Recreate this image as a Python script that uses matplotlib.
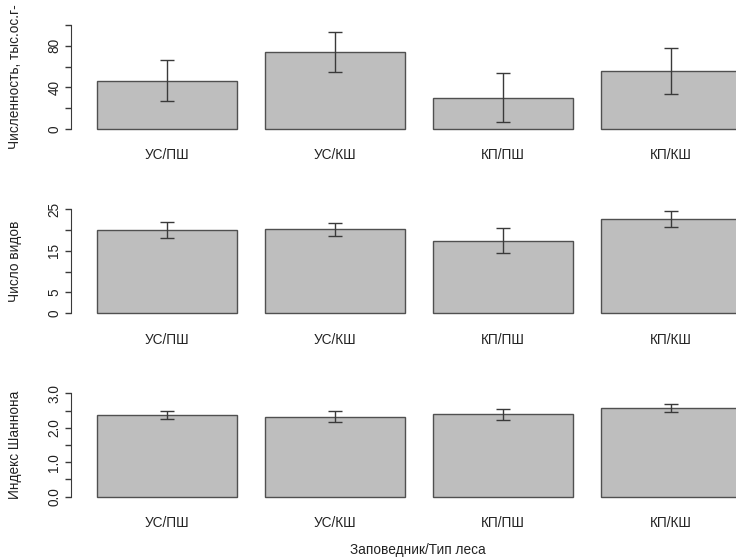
import numpy as np
import matplotlib
matplotlib.use("Agg")
import matplotlib.pyplot as plt

plt.rcParams['font.family'] = ['Liberation Sans', 'DejaVu Sans']

groups = ["УС/ПШ", "УС/КШ", "КП/ПШ", "КП/КШ"]

abund_mean = [46.5, 74.0, 30.3, 55.8]
abund_se = [19.5, 19.5, 24.0, 22.5]

species_mean = [20.0, 20.1, 17.4, 22.6]
species_se = [1.85, 1.5, 3.0, 2.0]

shannon_mean = [2.38, 2.32, 2.39, 2.58]
shannon_se = [0.12, 0.16, 0.15, 0.12]

panels = [
    ("Численность, тыс.ос.г-", abund_mean, abund_se,
     [0, 20, 40, 60, 80, 100], ["0", "", "40", "", "80", ""]),
    ("Число видов", species_mean, species_se,
     [0, 5, 10, 15, 20, 25], ["0", "5", "", "15", "", "25"]),
    ("Индекс Шаннона", shannon_mean, shannon_se,
     [0, 0.5, 1.0, 1.5, 2.0, 2.5, 3.0], ["0.0", "", "1.0", "", "2.0", "", "3.0"]),
]

W, H = 736, 558
fig = plt.figure(figsize=(W / 100, H / 100), dpi=100)
fig.patch.set_facecolor("white")

# pixel layout of each plot region (top, bottom), R-style barplot
left_px, right_px = 71, 767
rows_px = [(20.8, 133.2), (204.8, 317.5), (389.2, 500.8)]

centers = 0.7 + 1.2 * np.arange(len(groups))
ink = "#3a3a3a"
fs = 9.8

for i, (ylabel, mean, se, ticks, tlabels) in enumerate(panels):
    top, bot = rows_px[i]
    ax = fig.add_axes([left_px / W, 1 - bot / H, (right_px - left_px) / W, (bot - top) / H])
    ymax = ticks[-1]
    ext = 0.04 * ymax
    ax.bar(centers, mean, width=1.0, color="#bebebe", edgecolor="#505050", linewidth=1.0)
    ax.errorbar(centers, mean, yerr=se, fmt="none", ecolor=ink, elinewidth=1.0,
                capsize=5.2, capthick=1.0)
    ax.set_xlim(0.016, 4.984)
    ax.set_ylim(-ext, ymax + ext)
    for s in ["top", "right", "bottom"]:
        ax.spines[s].set_visible(False)
    ax.spines["left"].set_bounds(0, ymax)
    ax.spines["left"].set_color(ink)
    ax.set_yticks(ticks)
    ax.set_yticklabels(tlabels, rotation=90, va="center")
    ax.tick_params(axis="y", length=4, width=1, color=ink, labelsize=fs, pad=3,
                   labelcolor="#222222")
    ax.set_xticks(centers)
    ax.set_xticklabels(groups)
    ax.tick_params(axis="x", length=0, pad=11, labelsize=fs, labelcolor="#222222")
    ax.set_ylabel(ylabel, fontsize=fs, color="#222222", labelpad=18)
    ax.patch.set_visible(False)

fig.text(418 / W, 1 - 550 / H, "Заповедник/Тип леса", ha="center", va="center",
         fontsize=fs, color="#222222")

fig.savefig("out.png", dpi=100)
